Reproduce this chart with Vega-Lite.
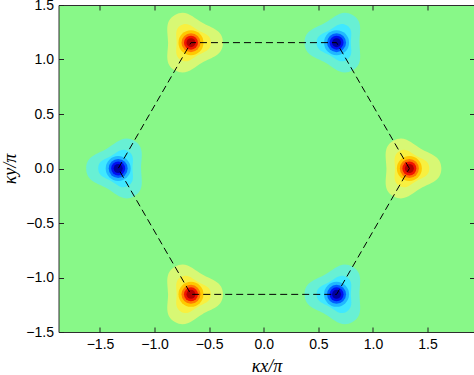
{
  "$schema": "https://vega.github.io/schema/vega-lite/v6.json",
  "autosize": {"type": "none"},
  "padding": {"left": 58.5, "top": 5, "right": 0, "bottom": 43},
  "width": 416,
  "height": 327,
  "config": {
    "view": {"fill": "#88f888", "stroke": "#2e2e2e", "strokeWidth": 1},
    "axis": {
      "domain": false,
      "grid": false,
      "tickColor": "#222222",
      "tickSize": -5,
      "labelFont": "Liberation Sans",
      "labelFontSize": 14,
      "labelColor": "#000000",
      "titleFont": "Liberation Serif",
      "titleFontStyle": "italic",
      "titleFontWeight": "normal",
      "titleFontSize": 18,
      "titleColor": "#000000"
    }
  },
  "datasets": {
    "peaks": [
      {"kx": 1.3333, "ky": 0, "valley": "K", "level": 1, "v": 1},
      {"kx": 1.3333, "ky": 0, "valley": "K", "level": 2, "v": 2},
      {"kx": 1.3333, "ky": 0, "valley": "K", "level": 3, "v": 3},
      {"kx": 1.3333, "ky": 0, "valley": "K", "level": 4, "v": 4},
      {"kx": 1.3333, "ky": 0, "valley": "K", "level": 5, "v": 5},
      {"kx": 1.3333, "ky": 0, "valley": "K", "level": 6, "v": 6},
      {"kx": -0.6667, "ky": 1.1547, "valley": "K", "level": 1, "v": 1},
      {"kx": -0.6667, "ky": 1.1547, "valley": "K", "level": 2, "v": 2},
      {"kx": -0.6667, "ky": 1.1547, "valley": "K", "level": 3, "v": 3},
      {"kx": -0.6667, "ky": 1.1547, "valley": "K", "level": 4, "v": 4},
      {"kx": -0.6667, "ky": 1.1547, "valley": "K", "level": 5, "v": 5},
      {"kx": -0.6667, "ky": 1.1547, "valley": "K", "level": 6, "v": 6},
      {"kx": -0.6667, "ky": -1.1547, "valley": "K", "level": 1, "v": 1},
      {"kx": -0.6667, "ky": -1.1547, "valley": "K", "level": 2, "v": 2},
      {"kx": -0.6667, "ky": -1.1547, "valley": "K", "level": 3, "v": 3},
      {"kx": -0.6667, "ky": -1.1547, "valley": "K", "level": 4, "v": 4},
      {"kx": -0.6667, "ky": -1.1547, "valley": "K", "level": 5, "v": 5},
      {"kx": -0.6667, "ky": -1.1547, "valley": "K", "level": 6, "v": 6},
      {"kx": -1.3333, "ky": 0, "valley": "K'", "level": 1, "v": -1},
      {"kx": -1.3333, "ky": 0, "valley": "K'", "level": 2, "v": -2},
      {"kx": -1.3333, "ky": 0, "valley": "K'", "level": 3, "v": -3},
      {"kx": -1.3333, "ky": 0, "valley": "K'", "level": 4, "v": -4},
      {"kx": -1.3333, "ky": 0, "valley": "K'", "level": 5, "v": -5},
      {"kx": -1.3333, "ky": 0, "valley": "K'", "level": 6, "v": -6},
      {"kx": 0.6667, "ky": 1.1547, "valley": "K'", "level": 1, "v": -1},
      {"kx": 0.6667, "ky": 1.1547, "valley": "K'", "level": 2, "v": -2},
      {"kx": 0.6667, "ky": 1.1547, "valley": "K'", "level": 3, "v": -3},
      {"kx": 0.6667, "ky": 1.1547, "valley": "K'", "level": 4, "v": -4},
      {"kx": 0.6667, "ky": 1.1547, "valley": "K'", "level": 5, "v": -5},
      {"kx": 0.6667, "ky": 1.1547, "valley": "K'", "level": 6, "v": -6},
      {"kx": 0.6667, "ky": -1.1547, "valley": "K'", "level": 1, "v": -1},
      {"kx": 0.6667, "ky": -1.1547, "valley": "K'", "level": 2, "v": -2},
      {"kx": 0.6667, "ky": -1.1547, "valley": "K'", "level": 3, "v": -3},
      {"kx": 0.6667, "ky": -1.1547, "valley": "K'", "level": 4, "v": -4},
      {"kx": 0.6667, "ky": -1.1547, "valley": "K'", "level": 5, "v": -5},
      {"kx": 0.6667, "ky": -1.1547, "valley": "K'", "level": 6, "v": -6}
    ],
    "hex": [
      {"i": 0, "kx": 1.3333, "ky": 0},
      {"i": 1, "kx": 0.6667, "ky": 1.1547},
      {"i": 2, "kx": -0.6667, "ky": 1.1547},
      {"i": 3, "kx": -1.3333, "ky": 0},
      {"i": 4, "kx": -0.6667, "ky": -1.1547},
      {"i": 5, "kx": 0.6667, "ky": -1.1547},
      {"i": 6, "kx": 1.3333, "ky": 0}
    ]
  },
  "layer": [
    {
      "data": {"name": "peaks"},
      "transform": [{"filter": "datum.level <= 2"}],
      "mark": {"type": "point", "filled": true, "opacity": 1, "strokeWidth": 0},
      "encoding": {
        "x": {"field": "kx", "type": "quantitative",
              "scale": {"domain": [-1.88, 1.93], "nice": false, "zero": false},
              "axis": {"orient": "bottom", "values": [-1.5, -1, -0.5, 0, 0.5, 1, 1.5], "labelPadding": 10, "title": "κx/π", "titlePadding": 6}},
        "y": {"field": "ky", "type": "quantitative",
              "scale": {"domain": [-1.5, 1.5], "nice": false, "zero": false},
              "axis": {"orient": "left", "values": [-1.5, -1, -0.5, 0, 0.5, 1, 1.5], "labelPadding": 10, "title": "κy/π", "titlePadding": 6}},
        "shape": {"field": "valley", "type": "nominal", "legend": null,
                  "scale": {"domain": ["K", "K'"], "range": [
                    "M0.95,0C0.95,0.38,0.617,0.429,0.34,0.589C0.063,0.749,-0.146,1.013,-0.475,0.823C-0.804,0.633,-0.68,0.32,-0.68,0C-0.68,-0.32,-0.804,-0.633,-0.475,-0.823C-0.146,-1.013,0.063,-0.749,0.34,-0.589C0.617,-0.429,0.95,-0.38,0.95,0Z",
                    "M-0.95,0C-0.95,0.38,-0.617,0.429,-0.34,0.589C-0.063,0.749,0.146,1.013,0.475,0.823C0.804,0.633,0.68,0.32,0.68,0C0.68,-0.32,0.804,-0.633,0.475,-0.823C0.146,-1.013,-0.063,-0.749,-0.34,-0.589C-0.617,-0.429,-0.95,-0.38,-0.95,0Z"]}},
        "size": {"field": "level", "type": "quantitative", "legend": null,
                 "scale": {"domain": [1, 2, 3, 4, 5, 6], "range": [4540, 1770, 625, 361, 196, 81]}},
        "color": {"field": "v", "type": "ordinal", "legend": null,
                  "scale": {"domain": [-6, -5, -4, -3, -2, -1, 1, 2, 3, 4, 5, 6],
                            "range": ["#0000a0", "#0010f0", "#0060ff", "#20b8ff", "#40e8ff", "#68f0d4", "#d8f874", "#f8f040", "#ffc800", "#ff7800", "#f01400", "#b00000"]}}
      }
    },
    {
      "data": {"name": "peaks"},
      "transform": [{"filter": "datum.level >= 3"}],
      "mark": {"type": "point", "shape": "circle", "filled": true, "opacity": 1, "strokeWidth": 0},
      "encoding": {
        "x": {"field": "kx", "type": "quantitative", "axis": null},
        "y": {"field": "ky", "type": "quantitative", "axis": null},
        "size": {"field": "level", "type": "quantitative", "legend": null},
        "color": {"field": "v", "type": "ordinal", "legend": null}
      }
    },
    {
      "data": {"name": "hex"},
      "mark": {"type": "line", "color": "#000000", "strokeWidth": 1, "strokeDash": [7, 4]},
      "encoding": {
        "x": {"field": "kx", "type": "quantitative",
              "axis": {"orient": "top", "values": [-1.5, -1, -0.5, 0, 0.5, 1, 1.5], "labels": false, "title": null}},
        "y": {"field": "ky", "type": "quantitative",
              "axis": {"orient": "right", "values": [-1.5, -1, -0.5, 0, 0.5, 1, 1.5], "labels": false, "title": null}},
        "order": {"field": "i", "type": "quantitative"}
      }
    }
  ],
  "resolve": {"axis": {"x": "independent", "y": "independent"}}
}
